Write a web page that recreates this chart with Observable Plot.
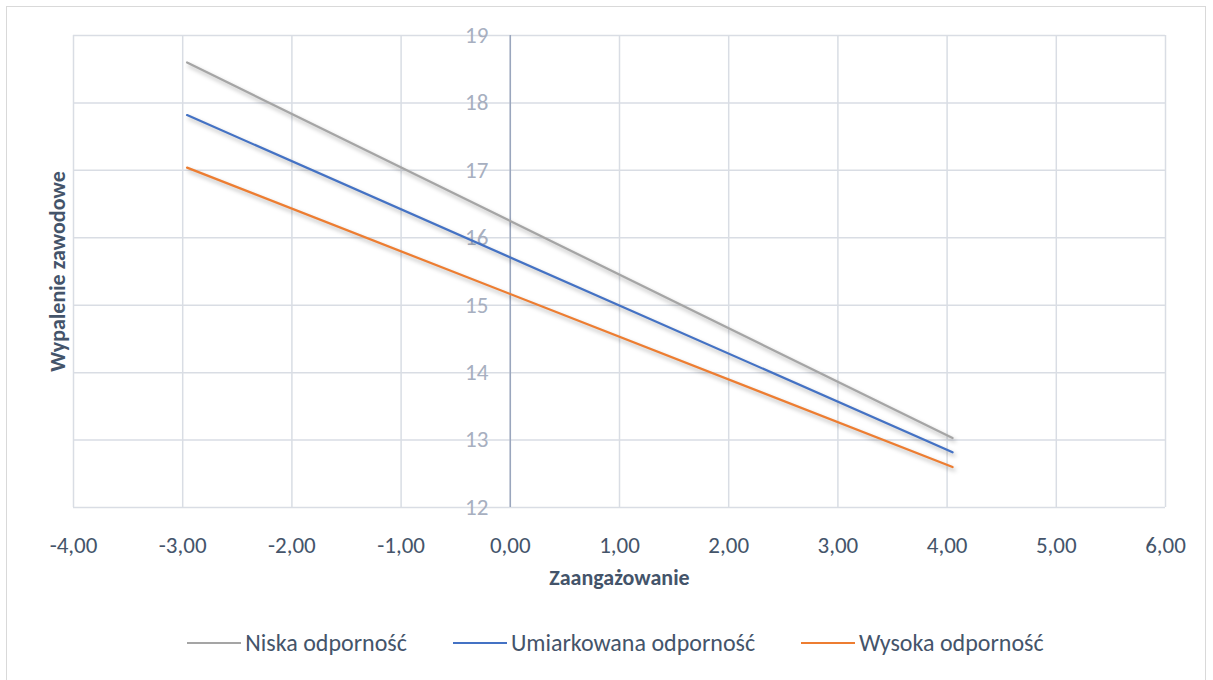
<!DOCTYPE html>
<html>
<head>
<meta charset="utf-8">
<script src="https://cdn.jsdelivr.net/npm/d3@7"></script>
<script src="https://cdn.jsdelivr.net/npm/@observablehq/plot@0.6"></script>
<style>
  html, body { margin: 0; padding: 0; background: #fff; }
  #wrap { position: relative; width: 1213px; height: 680px; overflow: hidden; font-family: Carlito, Lato, sans-serif; }
  #frame { position: absolute; left: 6px; top: 6px; width: 1200px; height: 720px; border: 1.5px solid #D9D9D9; box-sizing: border-box; }
  #chart { position: absolute; left: 0; top: 0; }
  #legend { position: absolute; left: 9px; width: 1213px; top: 628px; display: flex; justify-content: center; align-items: center; gap: 46px; font-size: 24px; color: #44546A; }
  .item { display: flex; align-items: center; }
  .swatch { width: 54px; height: 2px; margin-right: 4px; }
</style>
</head>
<body>
<div id="wrap">
  <div id="frame"></div>
  <div id="chart"></div>
  <div id="legend"></div>
</div>
<script>
// ---- data ----
const seriesNames = ["Niska odporność", "Umiarkowana odporność", "Wysoka odporność"];
const seriesColors = ["#A5A5A5", "#4472C4", "#ED7D31"];
const xValues = [-2.96, 4.05];
const niska = [18.60, 13.03];
const umiarkowana = [17.82, 12.82];
const wysoka = [17.04, 12.60];
const xTicks = [-4, -3, -2, -1, 0, 1, 2, 3, 4, 5, 6];
const yTicks = [12, 13, 14, 15, 16, 17, 18, 19];
const xTitle = "Zaangażowanie";
const yTitle = "Wypalenie zawodowe";

const seriesValues = [niska, umiarkowana, wysoka];
const rows = [];
seriesNames.forEach((name, i) => {
  xValues.forEach((x, j) => rows.push({series: name, x, y: seriesValues[i][j]}));
});

const gridColor = "#D9DDE4";
const textColor = "#44546A";

const plot = Plot.plot({
  width: 1213,
  height: 600,
  marginLeft: 73,
  marginRight: 48,
  marginTop: 35,
  marginBottom: 93,
  style: {fontFamily: "Carlito, Lato, sans-serif", background: "transparent"},
  x: {domain: [-4, 6], ticks: xTicks, axis: null},
  y: {domain: [12, 19], ticks: yTicks, axis: null},
  color: {domain: seriesNames, range: seriesColors},
  marks: [
    Plot.ruleX(xTicks, {stroke: gridColor, strokeWidth: 1.5}),
    Plot.ruleY(yTicks, {stroke: gridColor, strokeWidth: 1.5}),
    Plot.ruleX([0], {stroke: "#9AA6BD", strokeWidth: 1.5}),
    Plot.axisX({ticks: xTicks, tickSize: 0, tickPadding: 29, fontSize: 23, fill: textColor, label: null,
      tickFormat: d => d.toFixed(2).replace(".", ",")}),
    Plot.text(yTicks, {x: 0, y: d => d, dx: -22, textAnchor: "end", fontSize: 23, fill: "#A7AFC0"}),
    Plot.line(rows, {x: "x", y: "y", z: "series", stroke: "series", strokeWidth: 2.25}),
    Plot.text([xTitle], {frameAnchor: "bottom", lineAnchor: "middle", dy: 70, fontSize: 22, fontWeight: "bold", fill: textColor}),
    Plot.text([yTitle], {frameAnchor: "left", textAnchor: "middle", lineAnchor: "middle", dx: -16, rotate: -90, fontSize: 22, fontWeight: "bold", fill: textColor})
  ]
});
document.getElementById("chart").appendChild(plot);

// subtle shadow under the data lines
d3.select(plot).selectAll('g[aria-label="line"] path')
  .style("filter", "drop-shadow(2px 3px 2px rgba(0,0,0,0.3))");

// legend
const legend = d3.select("#legend");
seriesNames.forEach((name, i) => {
  const item = legend.append("div").attr("class", "item");
  item.append("div").attr("class", "swatch").style("background", seriesColors[i]);
  item.append("span").text(name);
});
</script>
</body>
</html>
